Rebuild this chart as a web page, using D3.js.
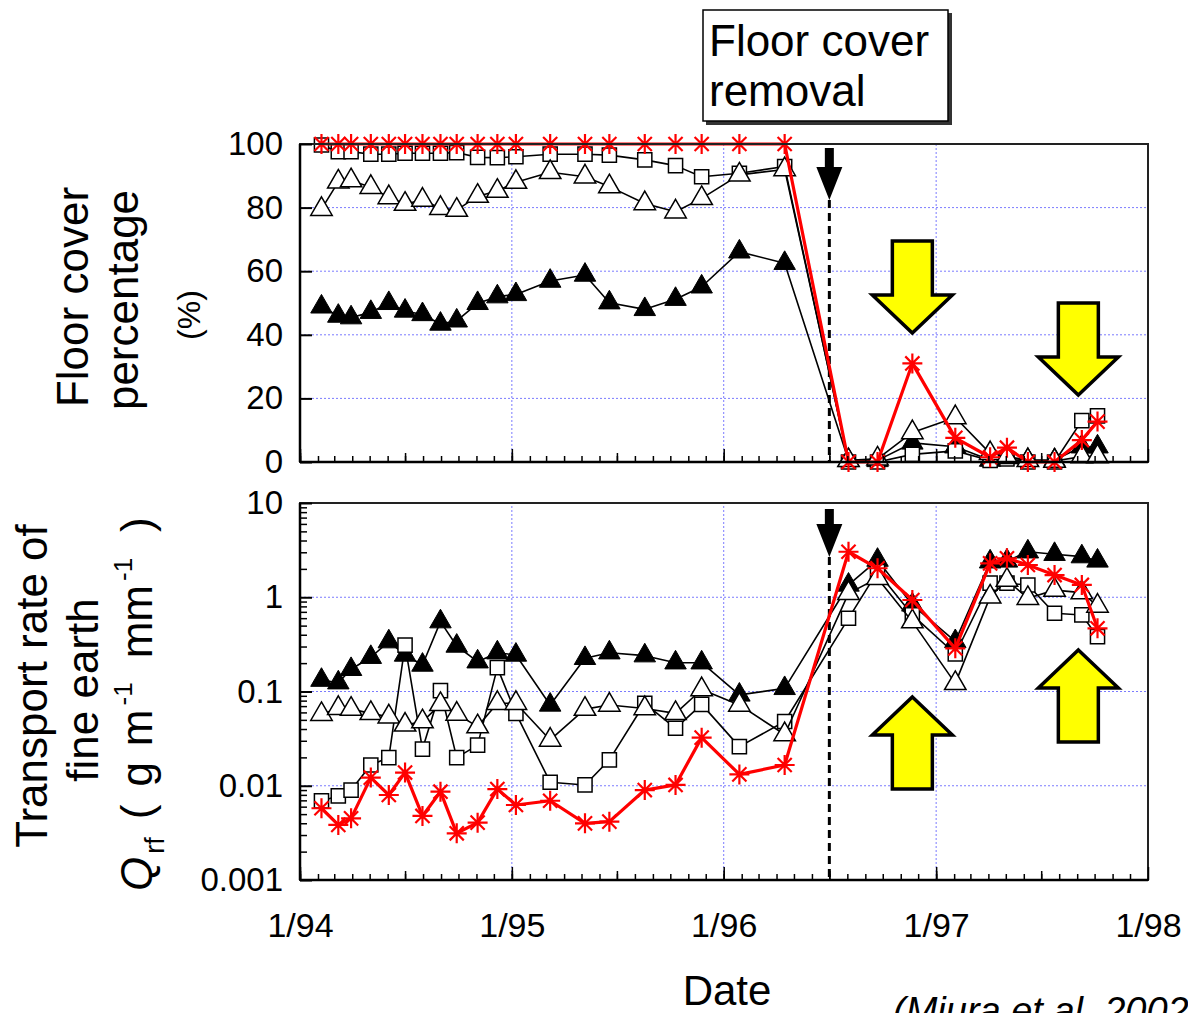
<!DOCTYPE html>
<html>
<head>
<meta charset="utf-8">
<script src="https://cdn.jsdelivr.net/npm/d3@7"></script>
<style>
  body { margin: 0; background: #fff; }
  svg { display: block; font-family: "Liberation Sans", Arial, sans-serif; }
</style>
</head>
<body>
<svg id="chart" width="1188" height="1013"></svg>
<script>
// sampling dates (same for both panels)
const dates = [
  "1994-02-07", "1994-03-08", "1994-03-30", "1994-05-03", "1994-06-03", "1994-07-01",
  "1994-07-31", "1994-08-31", "1994-09-28", "1994-11-03", "1994-12-07", "1995-01-08",
  "1995-03-08", "1995-05-07", "1995-06-18", "1995-08-18", "1995-10-10", "1995-11-24",
  "1996-01-28", "1996-04-15", "1996-08-03", "1996-09-22", "1996-11-21", "1997-02-03",
  "1997-04-04", "1997-05-03", "1997-06-08", "1997-07-24", "1997-09-09", "1997-10-06"
];
const removalDate = "1996-07-01";

// floor cover percentage (%)
const coverFilledTri = [48.8, 45.9, 45.4, 47.1, 49.9, 47.5, 46.4, 43.4, 44.4, 49.9, 52.0, 52.7,
  56.9, 58.8, 50.1, 48.0, 51.2, 55.1, 66.1, 62.5, 0.5, 0.5, 6.0, 4.8, 0.6, 1.7, 0.6, 0.6, 4.8, 4.8];
const coverSquare = [99.7, 97.6, 97.6, 96.8, 96.8, 97.1, 97.1, 97.1, 97.3, 95.8, 95.7, 96.0,
  96.8, 96.8, 96.5, 95.0, 93.2, 89.7, 90.8, 92.9, 0, 0, 2.4, 3.5, 0.5, 1.0, 0, 0, 13.0, 14.5];
const coverOpenTri = [79.5, 88.1, 88.5, 86.4, 83.2, 81.1, 82.4, 79.8, 79.2, 83.6, 85.2, 88.0,
  91.1, 89.7, 86.6, 81.3, 78.7, 82.9, 90.3, 92.0, 0.5, 1.0, 9.3, 14.0, 2.7, 1.5, 0.5, 0.3, 1.7, 1.7];
const coverRed = [100, 100, 100, 100, 100, 100, 100, 100, 100, 100, 100, 100,
  100, 100, 100, 100, 100, 100, 100, 100, 0, 0, 31.0, 7.6, 1.5, 4.5, 0, 0, 6.9, 12.7];

// transport rate of fine earth Qrf (g m-1 mm-1)
const rateFilledTri = [0.132, 0.124, 0.172, 0.231, 0.338, 0.244, 0.191, 0.551, 0.304, 0.207, 0.258, 0.244,
  0.072, 0.225, 0.258, 0.24, 0.202, 0.202, 0.092, 0.108, 1.35, 2.48, 0.83, 0.34, 2.38, 2.43, 3.04, 2.86, 2.70, 2.43];
const rateSquare = [0.0069, 0.0078, 0.0090, 0.0166, 0.0199, 0.311, 0.0245, 0.102, 0.0199, 0.027, 0.179, 0.0586,
  0.0109, 0.0102, 0.0188, 0.075, 0.0407, 0.073, 0.026, 0.048, 0.598, 1.87, 0.649, 0.25, 1.41, 1.41, 1.35, 0.676, 0.649, 0.382];
const rateOpenTri = [0.0573, 0.0664, 0.065, 0.0586, 0.054, 0.0442, 0.0479, 0.073, 0.0577, 0.0424, 0.075, 0.075,
  0.0306, 0.065, 0.072, 0.066, 0.0586, 0.105, 0.072, 0.035, 1.10, 1.59, 0.551, 0.122, 1.01, 1.52, 0.975, 1.19, 1.12, 0.807];
const rateRed = [0.00577, 0.00384, 0.00451, 0.0122, 0.00798, 0.0138, 0.00478, 0.00865, 0.00313, 0.00406, 0.00923, 0.00625,
  0.00693, 0.00399, 0.00416, 0.0090, 0.0102, 0.0324, 0.0132, 0.0166, 3.04, 2.03, 0.935, 0.287, 2.29, 2.59, 2.20, 1.72, 1.35, 0.468];

// ticks
const xTickDates = ["1994-01-01", "1995-01-01", "1996-01-01", "1997-01-01", "1998-01-01"];
const xTickLabels = ["1/94", "1/95", "1/96", "1/97", "1/98"];
const coverTicks = [0, 20, 40, 60, 80, 100];
const rateTicks = [0.001, 0.01, 0.1, 1, 10];
const rateTickLabels = ["0.001", "0.01", "0.1", "1", "10"];

const parse = d3.timeParse("%Y-%m-%d");
const svg = d3.select("#chart");

const x = d3.scaleTime()
  .domain([parse(xTickDates[0]), parse(xTickDates[4])])
  .range([300, 1148]);
const yTop = d3.scaleLinear().domain([0, 100]).range([462, 144]);
const yBot = d3.scaleLog().domain([0.001, 10]).range([880, 503]);

const gridColor = "#7b7bff";
const years = xTickDates.map(parse);

function drawGrid(y, vals) {
  const g = svg.append("g");
  g.selectAll(".gx").data(years.slice(1, 4)).enter().append("line")
    .attr("x1", d => x(d)).attr("x2", d => x(d))
    .attr("y1", y.range()[0]).attr("y2", y.range()[1])
    .attr("stroke", gridColor).attr("stroke-dasharray", "2,2").attr("stroke-width", 1);
  g.selectAll(".gy").data(vals).enter().append("line")
    .attr("x1", x.range()[0]).attr("x2", x.range()[1])
    .attr("y1", d => y(d)).attr("y2", d => y(d))
    .attr("stroke", gridColor).attr("stroke-dasharray", "2,2").attr("stroke-width", 1);
}

function drawFrame(y) {
  const [y0, y1] = y.range();
  const [x0, x1] = x.range();
  svg.append("rect")
    .attr("x", x0).attr("y", y1).attr("width", x1 - x0).attr("height", y0 - y1)
    .attr("fill", "none").attr("stroke", "#222").attr("stroke-width", 2);
  svg.append("line").attr("x1", x0).attr("x2", x1).attr("y1", y0).attr("y2", y0)
    .attr("stroke", "#000").attr("stroke-width", 2.5);
  svg.append("line").attr("x1", x0).attr("x2", x0).attr("y1", y0).attr("y2", y1)
    .attr("stroke", "#000").attr("stroke-width", 2.5);
}

function drawXTicks(y, withLabels) {
  const base = y.range()[0];
  const specs = [
    { vals: d3.timeMonth.range(years[0], years[4]), size: 6 },
    { vals: d3.timeMonth.every(6).range(years[0], years[4]), size: 9 },
    { vals: years, size: 13 }
  ];
  specs.forEach(s => {
    const ax = d3.axisBottom(x).tickValues(s.vals).tickSize(-s.size).tickSizeOuter(0).tickFormat("");
    const g = svg.append("g").attr("transform", `translate(0,${base})`).call(ax);
    g.select(".domain").remove();
    g.selectAll("line").attr("stroke", "#000").attr("stroke-width", 1.5);
  });
  if (withLabels) {
    const ax = d3.axisBottom(x).tickValues(years).tickSize(0).tickPadding(33)
      .tickFormat((d, i) => xTickLabels[i]);
    const g = svg.append("g").attr("transform", `translate(0,${base})`).call(ax);
    g.select(".domain").remove();
    g.selectAll("text").attr("font-size", 34).attr("fill", "#000")
      .attr("font-family", "'Liberation Sans', Arial, sans-serif");
  }
}

function drawYAxis(y, vals, fmt, minor) {
  const ax = d3.axisLeft(y).tickValues(vals).tickSize(-12).tickSizeOuter(0).tickPadding(17).tickFormat(fmt);
  const g = svg.append("g").attr("transform", `translate(${x.range()[0]},0)`).call(ax);
  g.select(".domain").remove();
  g.selectAll("line").attr("stroke", "#000").attr("stroke-width", 2);
  g.selectAll("text").attr("font-size", 33).attr("fill", "#000")
    .attr("font-family", "'Liberation Sans', Arial, sans-serif");
  if (minor) {
    const mAx = d3.axisLeft(y).tickValues(minor).tickSize(-7).tickSizeOuter(0).tickFormat("");
    const mg = svg.append("g").attr("transform", `translate(${x.range()[0]},0)`).call(mAx);
    mg.select(".domain").remove();
    mg.selectAll("line").attr("stroke", "#000").attr("stroke-width", 1.5);
  }
}

const triSym = d3.symbol().type(d3.symbolTriangle).size(200);
const sqSym = d3.symbol().type(d3.symbolSquare).size(200);
const astR = 10;
const asterisk = (() => {
  const r = astR, q = r * Math.SQRT1_2;
  return `M0,${-r}L0,${r}M${-r},0L${r},0M${-q},${-q}L${q},${q}M${-q},${q}L${q},${-q}`;
})();

function drawSeries(y, vals, kind) {
  const pts = dates.map((d, i) => [x(parse(d)), y(vals[i])]);
  const red = kind === "red";
  svg.append("path")
    .attr("d", d3.line()(pts))
    .attr("fill", "none")
    .attr("stroke", red ? "#ff0000" : "#000")
    .attr("stroke-width", red ? 3.2 : 1.6)
    .attr("stroke-linejoin", "round");
  const m = svg.append("g").selectAll("path").data(pts).enter().append("path")
    .attr("transform", d => `translate(${d[0]},${d[1]})`);
  if (kind === "filledTri") m.attr("d", triSym()).attr("fill", "#000").attr("stroke", "#000").attr("stroke-width", 1);
  if (kind === "openTri") m.attr("d", triSym()).attr("fill", "#fff").attr("stroke", "#000").attr("stroke-width", 1.5);
  if (kind === "square") m.attr("d", sqSym()).attr("fill", "#fff").attr("stroke", "#000").attr("stroke-width", 1.5);
  if (red) m.attr("d", asterisk).attr("fill", "none").attr("stroke", "#ff0000").attr("stroke-width", 2.2);
}

function blackArrow(y, tipY, len) {
  const cx = x(parse(removalDate));
  const p = [[cx - 4.5, tipY - len], [cx + 4.5, tipY - len], [cx + 4.5, tipY - 33], [cx + 13, tipY - 33],
    [cx, tipY], [cx - 13, tipY - 33], [cx - 4.5, tipY - 33]];
  svg.append("path").attr("d", d3.line()(p) + "Z").attr("fill", "#000");
  svg.append("line").attr("x1", cx).attr("x2", cx).attr("y1", tipY).attr("y2", y.range()[0])
    .attr("stroke", "#000").attr("stroke-width", 3).attr("stroke-dasharray", "8,5");
}

function yellowArrow(dateStr, tipY, dir) {
  const cx = x(parse(dateStr));
  const s = dir; // +1 points down, -1 points up
  const p = [[cx, tipY], [cx + 40, tipY - s * 38], [cx + 20, tipY - s * 38], [cx + 20, tipY - s * 92],
    [cx - 20, tipY - s * 92], [cx - 20, tipY - s * 38], [cx - 40, tipY - s * 38]];
  svg.append("path").attr("d", d3.line()(p) + "Z")
    .attr("fill", "#ffff00").attr("stroke", "#000").attr("stroke-width", 3.5).attr("stroke-linejoin", "miter");
}

// top panel
drawGrid(yTop, [20, 40, 60, 80]);
blackArrow(yTop, 200, 52);
drawSeries(yTop, coverFilledTri, "filledTri");
drawSeries(yTop, coverSquare, "square");
drawSeries(yTop, coverOpenTri, "openTri");
drawSeries(yTop, coverRed, "red");
drawFrame(yTop);
drawXTicks(yTop, false);
drawYAxis(yTop, coverTicks, d3.format("d"), null);

// bottom panel
drawGrid(yBot, [0.01, 0.1, 1]);
blackArrow(yBot, 557, 48);
drawSeries(yBot, rateFilledTri, "filledTri");
drawSeries(yBot, rateSquare, "square");
drawSeries(yBot, rateOpenTri, "openTri");
drawSeries(yBot, rateRed, "red");
drawFrame(yBot);
drawXTicks(yBot, true);
const logMinor = [];
rateTicks.slice(0, 4).forEach(t => { for (let k = 2; k <= 9; k++) logMinor.push(t * k); });
drawYAxis(yBot, rateTicks, (d, i) => rateTickLabels[i], logMinor);

// yellow arrows
yellowArrow("1996-11-21", 333, 1);
yellowArrow("1997-09-03", 395, 1);
yellowArrow("1996-11-21", 697, -1);
yellowArrow("1997-09-03", 650, -1);

// removal box
svg.append("rect").attr("x", 706).attr("y", 13).attr("width", 246).attr("height", 112).attr("fill", "#333");
svg.append("rect").attr("x", 703).attr("y", 10).attr("width", 245).attr("height", 111)
  .attr("fill", "#fff").attr("stroke", "#000").attr("stroke-width", 1.5);
svg.append("text").attr("x", 709).attr("y", 56).attr("font-size", 44).text("Floor cover");
svg.append("text").attr("x", 709).attr("y", 106).attr("font-size", 44).text("removal");

// axis titles
function vText(xb, yc, str, size) {
  return svg.append("text").attr("transform", `translate(${xb},${yc}) rotate(-90)`)
    .attr("text-anchor", "middle").attr("font-size", size).text(str);
}
vText(88, 297, "Floor cover", 44);
vText(138, 300, "percentage", 44);
vText(200, 315, "(%)", 32);
vText(47, 686, "Transport rate of", 44);
vText(98, 690, "fine earth", 44);

const q = svg.append("text").attr("transform", "translate(152,891) rotate(-90)").attr("font-size", 44);
q.append("tspan").attr("font-style", "italic").text("Q");
q.append("tspan").attr("font-size", 27).attr("dy", 12).attr("dx", 3).text("rf");
q.append("tspan").attr("dy", -12).attr("dx", 18).text("(");
q.append("tspan").attr("dx", 18).text("g");
q.append("tspan").attr("dx", 16).text("m");
q.append("tspan").attr("font-size", 26).attr("dy", -20).attr("dx", 4).text("-1");
q.append("tspan").attr("dy", 20).attr("dx", 24).text("mm");
q.append("tspan").attr("font-size", 26).attr("dy", -20).attr("dx", 4).text("-1");
q.append("tspan").attr("dy", 20).attr("dx", 26).text(")");

svg.append("text").attr("x", 727).attr("y", 1005).attr("text-anchor", "middle")
  .attr("font-size", 42).text("Date");
svg.append("text").attr("x", 893).attr("y", 1024).attr("font-size", 38)
  .attr("font-style", "italic").text("(Miura et al. 2002)");
</script>
</body>
</html>
